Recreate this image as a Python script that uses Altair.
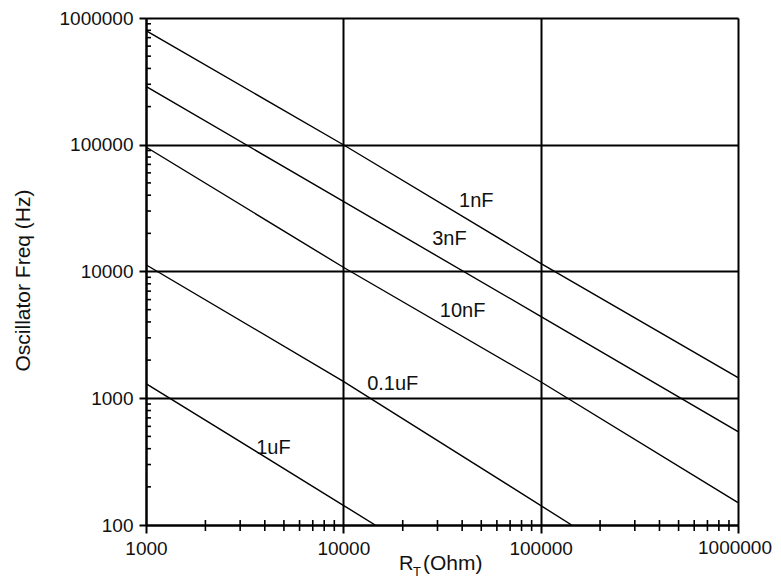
import altair as alt
import pandas as pd

# ---------------- data ----------------
R_DECADES = [1000, 10000, 100000, 1000000]
F_DECADES = [100, 1000, 10000, 100000, 1000000]
R_MINOR = [k * d for d in [1000, 10000, 100000] for k in range(2, 10)]
F_MINOR = [k * d for d in [100, 1000, 10000, 100000] for k in range(2, 10)]

CAP_1NF = "1nF"
R_1NF = [1000, 10000, 100000, 1000000]
F_1NF = [794000, 100000, 11600, 1455]

CAP_3NF = "3nF"
R_3NF = [1000, 10000, 100000, 1000000]
F_3NF = [289000, 35700, 4430, 545]

CAP_10NF = "10nF"
R_10NF = [1000, 10000, 100000, 1000000]
F_10NF = [96000, 10800, 1350, 150]

CAP_01UF = "0.1uF"
R_01UF = [1000, 10000, 143600]
F_01UF = [11300, 1360, 100]

CAP_1UF = "1uF"
R_1UF = [1000, 10000, 14500]
F_1UF = [1306, 143, 100]

LABEL_TEXT = ["1nF", "3nF", "10nF", "0.1uF", "1uF"]
LABEL_R = [47200, 34500, 40200, 17800, 4420]
LABEL_F = [35900, 17900, 4900, 1285, 403]

LAST_X_LABEL = "1000000"

# ---------------- tables ----------------
rows = []
for name, rs, fs in [(CAP_1NF, R_1NF, F_1NF), (CAP_3NF, R_3NF, F_3NF),
                     (CAP_10NF, R_10NF, F_10NF), (CAP_01UF, R_01UF, F_01UF),
                     (CAP_1UF, R_1UF, F_1UF)]:
    for i, (r, f) in enumerate(zip(rs, fs)):
        rows.append({"cap": name, "R": r, "F": f, "order": i})
lines_df = pd.DataFrame(rows)
labels_df = pd.DataFrame({"text": LABEL_TEXT, "R": LABEL_R, "F": LABEL_F})
xminor_df = pd.DataFrame({"R": R_MINOR})
yminor_df = pd.DataFrame({"F": F_MINOR})
lastlab_df = pd.DataFrame({"R": [R_DECADES[-1]], "t": [LAST_X_LABEL]})

W, H = 592, 507
FONT = "Liberation Sans"
TXT = "#111"
XTICK, XPAD = 8, 6

xscale = alt.Scale(type="log", domain=[1000, 1000000], nice=False)
yscale = alt.Scale(type="log", domain=[100, 1000000], nice=False)

x_axis = alt.Axis(values=R_DECADES, format=".0f", title=None, grid=True,
                  labelExpr="datum.value >= 1000000 ? '' : datum.label",
                  gridColor="black", gridWidth=2, gridOpacity=1,
                  domainColor="black", domainWidth=2,
                  tickColor="black", tickWidth=2, tickSize=XTICK,
                  labelFont=FONT, labelFontSize=19, labelColor=TXT,
                  labelPadding=XPAD, labelFlush=False)
y_axis = alt.Axis(values=F_DECADES, format=".0f", title="Oscillator Freq (Hz)",
                  grid=True, gridColor="black", gridWidth=2, gridOpacity=1,
                  domainColor="black", domainWidth=2,
                  tickColor="black", tickWidth=2, tickSize=7,
                  labelFont=FONT, labelFontSize=19, labelColor=TXT,
                  labelPadding=6, labelFlush=False,
                  titleFont=FONT, titleFontSize=21, titleFontWeight="normal",
                  titleColor=TXT, titleX=-123, titleY=262,
                  titleAngle=270, titleAlign="center", titleBaseline="middle")

lines = alt.Chart(lines_df).mark_line(color="black", strokeWidth=1.4, clip=True).encode(
    x=alt.X("R:Q", scale=xscale, axis=x_axis),
    y=alt.Y("F:Q", scale=yscale, axis=y_axis),
    detail="cap:N",
    order="order:Q",
)

labels = alt.Chart(labels_df).mark_text(font=FONT, fontSize=20, color=TXT,
                                        align="center", baseline="middle").encode(
    x=alt.X("R:Q", scale=xscale),
    y=alt.Y("F:Q", scale=yscale),
    text="text:N",
)

lastlab = alt.Chart(lastlab_df).mark_text(font=FONT, fontSize=19, color=TXT,
                                          align="right", baseline="top", dx=34).encode(
    x=alt.X("R:Q", scale=xscale),
    y=alt.value(H + XTICK + XPAD),
    text="t:N",
)

xminor = alt.Chart(xminor_df).mark_rule(color="black", strokeWidth=1.6).encode(
    x=alt.X("R:Q", scale=xscale),
    y=alt.value(H - 5),
    y2=alt.value(H + 6),
)

yminor = alt.Chart(yminor_df).mark_rule(color="black", strokeWidth=1.6).encode(
    y=alt.Y("F:Q", scale=yscale),
    x=alt.value(0),
    x2=alt.value(5),
)

# x-axis title with subscript
t_R = alt.Chart(pd.DataFrame({"t": ["R"]})).mark_text(
    font=FONT, fontSize=20, color=TXT, align="left", baseline="alphabetic").encode(
    text="t:N", x=alt.value(253), y=alt.value(552))
t_T = alt.Chart(pd.DataFrame({"t": ["T"]})).mark_text(
    font=FONT, fontSize=13, color=TXT, align="left", baseline="alphabetic").encode(
    text="t:N", x=alt.value(267), y=alt.value(558))
t_O = alt.Chart(pd.DataFrame({"t": ["(Ohm)"]})).mark_text(
    font=FONT, fontSize=21, color=TXT, align="left", baseline="alphabetic").encode(
    text="t:N", x=alt.value(277), y=alt.value(552))

chart = alt.layer(lines, xminor, yminor, labels, lastlab, t_R, t_T, t_O).properties(
    width=W, height=H,
    padding={"left": 138, "top": 10, "right": 35, "bottom": 55},
    autosize=alt.AutoSizeParams(type="none"),
).configure_view(stroke="black", strokeWidth=2).configure(background="white")

chart.save("out.html", embed_options={"renderer": "svg", "actions": False})
